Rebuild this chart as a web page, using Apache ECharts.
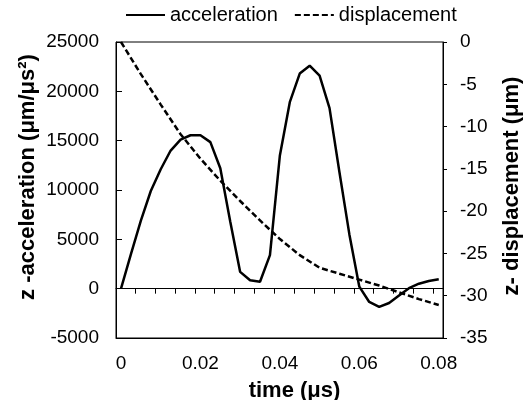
<!DOCTYPE html>
<html>
<head>
<meta charset="utf-8">
<script src="https://cdn.jsdelivr.net/npm/echarts@6/dist/echarts.min.js"></script>
<style>
html,body{margin:0;padding:0;background:#fff;}
#chart{width:527px;height:400px;}
</style>
</head>
<body>
<div id="chart"></div>
<script>
// ---- data ----
const accTime = [0,0.0025,0.005,0.0075,0.01,0.0125,0.015,0.0175,0.02,0.0225,0.025,0.0275,0.03,0.0325,0.035,0.0375,0.04,0.0425,0.045,0.0475,0.05,0.0525,0.055,0.0575,0.06,0.0625,0.065,0.0675,0.07,0.0725,0.075,0.0775,0.08];
const acceleration = [0,3500,6900,9900,12100,14000,15100,15550,15550,14850,12200,6800,1700,850,700,3400,13500,18900,21800,22600,21600,18300,11800,5500,200,-1350,-1850,-1450,-700,50,500,780,960];
const dispTime = [0,0.005,0.01,0.015,0.02,0.025,0.03,0.035,0.04,0.045,0.05,0.055,0.06,0.065,0.07,0.075,0.08];
const displacement = [0,-3.8,-7.4,-10.9,-13.8,-16.4,-18.8,-21.1,-23.3,-25.2,-26.7,-27.4,-28.1,-28.8,-29.6,-30.4,-31.1];
const xLabels = [0,0.02,0.04,0.06,0.08];
const zeroTicks = [0.0036,0.0086,0.0136,0.0186,0.0236,0.0286,0.0336,0.0386,0.0436,0.0486,0.0536,0.0586,0.0636,0.0686,0.0736,0.0786];
const seriesNames = ['acceleration','displacement'];

const FONT = "'Liberation Sans', Arial, sans-serif";
const chart = echarts.init(document.getElementById('chart'), null, {renderer:'canvas'});
const xMin = -0.00126, xMax = 0.08107;

chart.setOption({
  animation:false,
  backgroundColor:'#fff',
  textStyle:{fontFamily:FONT,color:'#000'},
  legend:{
    left:125, top:5, padding:0, itemWidth:39, itemHeight:14, itemGap:16,
    textStyle:{fontFamily:FONT,fontSize:20,color:'#000'},
    itemStyle:{opacity:0},
    data:seriesNames
  },
  grid:{left:116,right:84,top:42,bottom:62,show:true,borderColor:'#000',borderWidth:1,
    backgroundColor:'transparent',containLabel:false,outerBoundsMode:'none'},
  xAxis:[{
    type:'value', min:xMin, max:xMax, position:'bottom',
    axisLine:{show:true,onZero:false,lineStyle:{color:'#000',width:1}},
    axisTick:{show:false},
    splitLine:{show:false},
    axisLabel:{customValues:xLabels,fontSize:19,color:'#000',fontFamily:FONT,margin:16,
      formatter:v=>String(v)},
    name:'time (μs)', nameLocation:'middle', nameGap:42, nameMoveOverlap:false,
    nameTextStyle:{fontSize:22,fontWeight:'bold',color:'#000',fontFamily:FONT,padding:[0,0,0,30]}
  },{
    type:'value', min:xMin, max:xMax, position:'top',
    axisLine:{show:true,onZero:true,onZeroAxisIndex:0,lineStyle:{color:'#000',width:1}},
    axisTick:{show:true,inside:true,length:5,customValues:zeroTicks,lineStyle:{color:'#000',width:1}},
    axisLabel:{show:false},
    splitLine:{show:false}
  }],
  yAxis:[{
    type:'value', min:-5000, max:25000, interval:5000, position:'left',
    axisLine:{show:true,onZero:false,lineStyle:{color:'#000',width:1}},
    axisTick:{show:true,inside:true,length:6,lineStyle:{color:'#000'}},
    splitLine:{show:false},
    axisLabel:{fontSize:19,color:'#000',fontFamily:FONT,margin:17,formatter:v=>String(v)},
    name:'z -acceleration (μm/μs²)', nameLocation:'middle', nameRotate:90, nameGap:77, nameMoveOverlap:false,
    nameTextStyle:{fontSize:22,fontWeight:'bold',color:'#000',fontFamily:FONT,padding:[0,0,0,26]}
  },{
    type:'value', min:-35, max:0, interval:5, position:'right',
    axisLine:{show:true,onZero:false,lineStyle:{color:'#000',width:1}},
    axisTick:{show:true,inside:false,length:4,lineStyle:{color:'#000'}},
    splitLine:{show:false},
    axisLabel:{fontSize:19,color:'#000',fontFamily:FONT,margin:17,formatter:v=>String(v)},
    name:'z- displacement (μm)', nameLocation:'middle', nameRotate:90, nameGap:58, nameMoveOverlap:false,
    nameTextStyle:{fontSize:22,fontWeight:'bold',color:'#000',fontFamily:FONT,padding:[0,0,0,8]}
  }],
  series:[{
    name:seriesNames[0], type:'line', xAxisIndex:0, yAxisIndex:0,
    symbol:'none', smooth:false,
    lineStyle:{color:'#000',width:2.5,type:'solid'},
    itemStyle:{color:'#000'},
    data:accTime.map((t,i)=>[t,acceleration[i]])
  },{
    name:seriesNames[1], type:'line', xAxisIndex:0, yAxisIndex:1,
    symbol:'none', smooth:false,
    lineStyle:{color:'#000',width:2.5,type:[6,3]},
    itemStyle:{color:'#000'},
    data:dispTime.map((t,i)=>[t,displacement[i]])
  }]
});
</script>
</body>
</html>
